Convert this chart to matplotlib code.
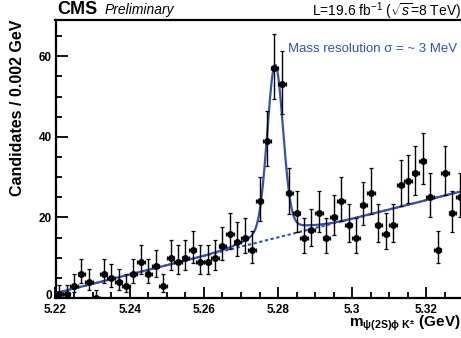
import numpy as np
import matplotlib
matplotlib.use('Agg')
import matplotlib.pyplot as plt
from matplotlib.ticker import MultipleLocator
from matplotlib.transforms import ScaledTranslation

plt.rcParams['font.family'] = ['Liberation Sans', 'DejaVu Sans']
plt.rcParams['mathtext.fontset'] = 'custom'
plt.rcParams['mathtext.rm'] = 'Liberation Sans'
plt.rcParams['mathtext.it'] = 'Liberation Sans:italic'
plt.rcParams['mathtext.bf'] = 'Liberation Sans:bold'
plt.rcParams['mathtext.sf'] = 'Liberation Sans'

# ---- data ----
x_min, x_max = 5.22, 5.33
bin_width = 0.002
counts = [1, 1, 3, 6, 4, 0, 6, 5, 4, 3,
          6, 9, 6, 8, 3, 10, 9, 10, 12, 9,
          9, 10, 13, 16, 14, 15, 12, 24, 39, 57,
          53, 26, 21, 15, 17, 21, 15, 20, 24, 18,
          15, 23, 26, 18, 16, 18, 28, 29, 31, 34,
          25, 12, 31, 21, 25]
x_ticks = [5.22, 5.24, 5.26, 5.28, 5.30, 5.32]
x_ticklabels = ['5.22', '5.24', '5.26', '5.28', '5.3', '5.32']
y_ticks = [0, 20, 40, 60]

# fit model parameters
bg_at_min = 1.2        # background at 5.22
bg_slope = 231.0       # candidates per GeV
sig_mean = 5.2792
sig_amp1, sig_sigma1 = 40.5, 0.0021
sig_amp2, sig_sigma2 = 2.5, 0.0070

counts = np.array(counts, dtype=float)
centers = x_min + bin_width * (np.arange(len(counts)) + 0.5)

# Poisson (Gehrels) 68% intervals
upper = counts + np.sqrt(counts + 0.75) + 1.0
safe = np.maximum(counts, 1)
lower = np.where(counts > 0,
                 counts * (1 - 1 / (9 * safe) - 1 / (3 * np.sqrt(safe))) ** 3,
                 0.0)
err_lo = counts - lower
err_hi = upper - counts

xs = np.linspace(x_min, x_max, 800)
bg = bg_at_min + bg_slope * (xs - x_min)
sig = (sig_amp1 * np.exp(-0.5 * ((xs - sig_mean) / sig_sigma1) ** 2)
       + sig_amp2 * np.exp(-0.5 * ((xs - sig_mean) / sig_sigma2) ** 2))
total = bg + sig

W, H = 461, 338
fig = plt.figure(figsize=(W / 100, H / 100), dpi=100)
left_px, right_px, top_px, bot_px = 55.5, 463.6, 20, 298
ax = fig.add_axes([left_px / W, (H - bot_px) / H, (right_px - left_px) / W, (bot_px - top_px) / H])

blue = '#3353b0'
ax.plot(xs, bg, color=blue, lw=1.5, ls=(0, (1.6, 1.2)), zorder=2)
ax.plot(xs, total, color=blue, lw=1.6, zorder=3)
ax.errorbar(centers, counts, yerr=[err_lo, err_hi], xerr=bin_width / 2,
            fmt='o', color='black', ms=4.0, elinewidth=1.0, capsize=1.3,
            capthick=0.9, zorder=4)

ax.set_xlim(x_min, x_max)
ax.set_ylim(0, 69.0)
ax.set_xticks(x_ticks)
ax.set_xticklabels(x_ticklabels)
ax.set_yticks(y_ticks)
ax.xaxis.set_minor_locator(MultipleLocator(0.005))
ax.yaxis.set_minor_locator(MultipleLocator(5))
ax.tick_params(axis='both', which='both', direction='in', top=False, right=False,
               width=1.3, color='black')
ax.tick_params(axis='x', which='major', length=8, pad=4)
ax.tick_params(axis='x', which='minor', length=4.5)
ax.tick_params(axis='y', which='major', length=8.5, pad=2.5)
ax.tick_params(axis='y', which='minor', length=4.5)
for lab in ax.get_xticklabels() + ax.get_yticklabels():
    lab.set_fontsize(8.5)
    lab.set_fontweight('bold')
# lift the "0" label slightly, as in the reference
lab0 = ax.yaxis.get_major_ticks()[0].label1
lab0.set_transform(lab0.get_transform() + ScaledTranslation(0, 2.5 / 72, fig.dpi_scale_trans))
for sp in ax.spines.values():
    sp.set_linewidth(1.6)

fig.text(17.5 / W, 1 - 20 / H, 'Candidates / 0.002 GeV', rotation=90,
         ha='center', va='top', fontsize=11.5, fontweight='bold')
fig.text(461 / W, 1 - 327 / H,
         r'm$_{\mathbf{\psi(2S)\phi\ K^{\pm}}}$ (GeV)',
         ha='right', va='baseline', fontsize=11, fontweight='bold')
fig.text(57 / W, 1 - 14 / H, 'CMS', ha='left', va='baseline',
         fontsize=13, fontweight='bold')
fig.text(105 / W, 1 - 14 / H, 'Preliminary', ha='left', va='baseline',
         fontsize=10, fontstyle='italic')
fig.text(461 / W, 1 - 16.5 / H, r'L=19.6 fb$^{-1}$ ($\sqrt{s}$=8 TeV)',
         ha='right', va='baseline', fontsize=10)
fig.text(288 / W, 1 - 51.5 / H, 'Mass resolution σ = ~ 3 MeV',
         ha='left', va='baseline', fontsize=9.5, color=blue)

fig.savefig('out.png', dpi=100)
